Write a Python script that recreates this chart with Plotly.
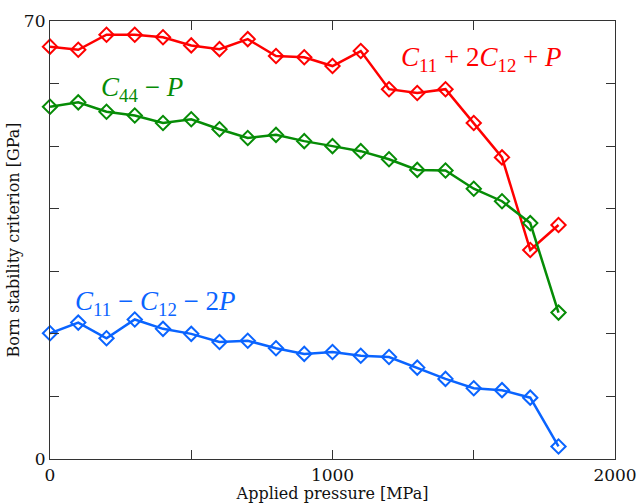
import plotly.graph_objects as go

# Applied pressure (MPa)
pressure = [0, 100, 200, 300, 400, 500, 600, 700, 800, 900, 1000,
            1100, 1200, 1300, 1400, 1500, 1600, 1700, 1800]

# Born stability criteria (GPa)
bulk_crit = [65.9, 65.4, 67.8, 67.8, 67.4, 66.1, 65.5, 67.1, 64.4, 64.2, 62.8,
             65.2, 59.1, 58.5, 59.1, 53.7, 48.2, 33.4, 37.4]
shear44_crit = [56.3, 57.0, 55.5, 54.9, 53.7, 54.3, 52.7, 51.3, 51.8, 50.8, 50.0,
                49.2, 47.9, 46.2, 46.1, 43.2, 41.2, 37.7, 23.4]
tetra_crit = [20.1, 21.8, 19.3, 22.3, 20.8, 20.0, 18.7, 18.9, 17.7, 16.8, 17.1,
              16.5, 16.3, 14.6, 12.8, 11.3, 11.0, 9.8, 2.0]

series = [
    (bulk_crit, "#ff0000", "<i>C</i><sub>11</sub> + 2<i>C</i><sub>12</sub> + <i>P</i>", 1526, 64.0),
    (shear44_crit, "#068c06", "<i>C</i><sub>44</sub> − <i>P</i>", 324, 59.2),
    (tetra_crit, "#0a64ff", "<i>C</i><sub>11</sub> − <i>C</i><sub>12</sub> − 2<i>P</i>", 372, 25.0),
]

y_ticks = list(range(0, 71, 10))
y_labels = ["0", "", "", "", "", "", "", "70"]
x_ticks = [0, 500, 1000, 1500, 2000]
x_labels = ["0", "", "1000", "", "2000"]

SERIF = "DejaVu Serif, serif"
MATH = "Liberation Serif, serif"

fig = go.Figure()
for vals, color, label, lx, ly in series:
    fig.add_trace(go.Scatter(
        x=pressure, y=vals, mode="lines+markers",
        line=dict(color=color, width=2.5),
        marker=dict(symbol="diamond-open", size=11, color=color,
                    line=dict(width=2, color=color)),
        showlegend=False, cliponaxis=False,
    ))
    fig.add_annotation(x=lx, y=ly, text=label, showarrow=False,
                       font=dict(family=MATH, size=27, color=color))

axis_common = dict(
    showgrid=False, zeroline=False, showline=True, linecolor="#333333",
    linewidth=1.2, mirror="ticks", ticks="inside", ticklen=9,
    tickcolor="#333333", tickwidth=1.2, automargin=False,
    tickfont=dict(family=SERIF, size=17, color="#111111"),
)

fig.update_layout(
    width=639, height=503,
    margin=dict(l=50, r=24, t=21, b=44),
    paper_bgcolor="white", plot_bgcolor="white",
    xaxis=dict(range=[0, 2000], tickvals=x_ticks, ticktext=x_labels,
               title=dict(text="Applied pressure [MPa]", standoff=2,
                          font=dict(family=SERIF, size=16, color="#111111")),
               **axis_common),
    yaxis=dict(range=[0, 70], tickvals=y_ticks, ticktext=y_labels,
               title=dict(text="Born stability criterion [GPa]", standoff=0,
                          font=dict(family=SERIF, size=16, color="#111111")),
               **axis_common),
)

fig.write_html("out.html")
